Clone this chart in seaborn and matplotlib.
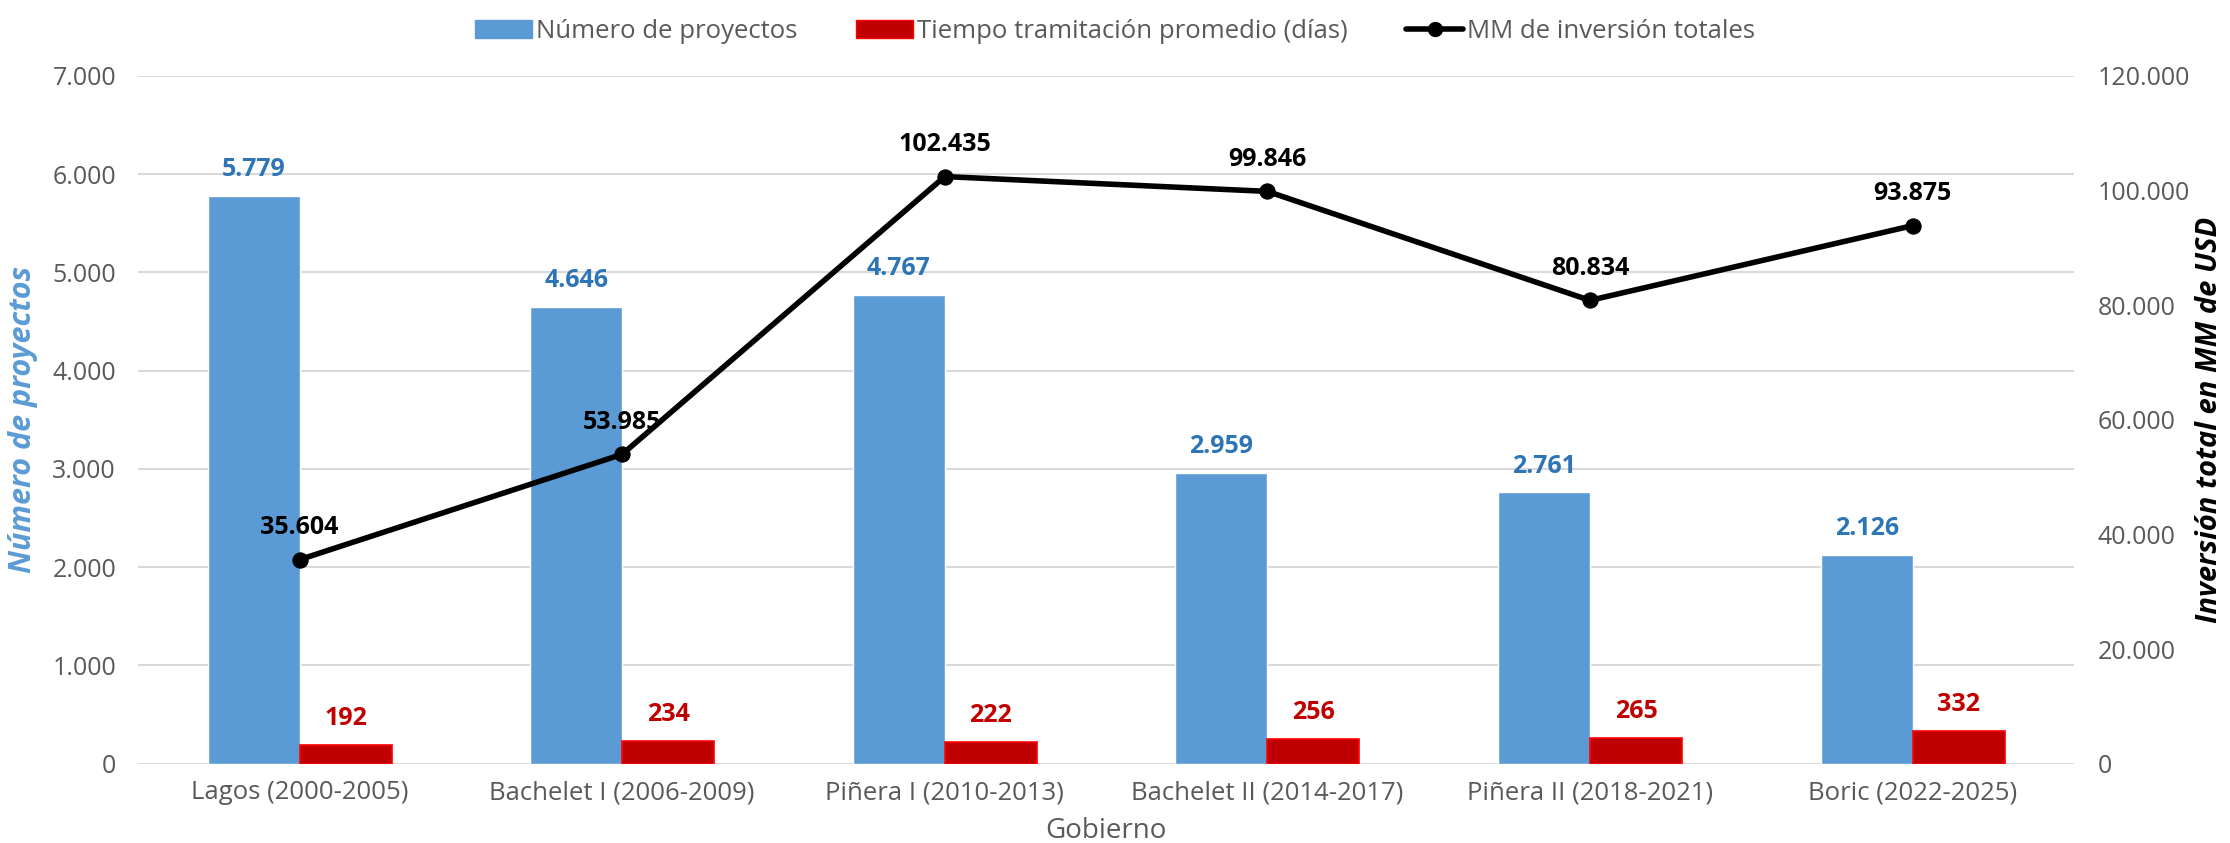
import numpy as np
import pandas as pd
import matplotlib
matplotlib.use("Agg")
import matplotlib.pyplot as plt
import seaborn as sns
from matplotlib.lines import Line2D
from matplotlib.patches import Patch
from matplotlib.ticker import FuncFormatter

gobiernos = ["Lagos (2000-2005)", "Bachelet I (2006-2009)", "Piñera I (2010-2013)",
             "Bachelet II (2014-2017)", "Piñera II (2018-2021)", "Boric (2022-2025)"]
proyectos = [5779, 4646, 4767, 2959, 2761, 2126]
tiempo = [192, 234, 222, 256, 265, 332]
inversion = [35604, 53985, 102435, 99846, 80834, 93875]

SERIE_P = "Número de proyectos"
SERIE_T = "Tiempo tramitación promedio (días)"
SERIE_I = "MM de inversión totales"

BLUE = "#5B9BD5"
BLUE_TXT = "#2E75B6"
RED = "#C00000"
GREY = "#595959"


def fmt(v):
    return f"{int(v):,}".replace(",", ".")


df = pd.DataFrame({
    "Gobierno": gobiernos * 2,
    "valor": proyectos + tiempo,
    "serie": [SERIE_P] * len(gobiernos) + [SERIE_T] * len(gobiernos),
})

sns.set_style("white")
plt.rcParams["font.family"] = ["Open Sans", "DejaVu Sans"]

fig = plt.figure(figsize=(22.3, 8.43), dpi=100)
ax = fig.add_axes([0.062, 0.094, 0.868, 0.816])

sns.barplot(data=df, x="Gobierno", y="valor", hue="serie", order=gobiernos,
            hue_order=[SERIE_P, SERIE_T], palette={SERIE_P: BLUE, SERIE_T: RED},
            width=0.57, saturation=1, errorbar=None, ax=ax, legend=False)

for bar in ax.containers[1]:
    bar.set_edgecolor("#FF0000")
    bar.set_linewidth(1.2)

ax.set_ylim(0, 7000)
ax.set_xlim(-0.5, len(gobiernos) - 0.5)
ax.set_yticks(range(0, 7001, 1000))
ax.yaxis.set_major_formatter(FuncFormatter(lambda v, p: fmt(v)))
ax.grid(axis="y", color="#D9D9D9", linewidth=1.5)
ax.set_axisbelow(True)
for s in ax.spines.values():
    s.set_visible(False)
ax.tick_params(axis="y", labelsize=18, colors=GREY, length=0, pad=16)
ax.tick_params(axis="x", labelsize=18.5, colors=GREY, length=0, pad=12)
ax.set_xlabel("Gobierno", fontsize=20, color=GREY, labelpad=8)
ax.set_ylabel(SERIE_P, fontsize=22, color=BLUE, fontweight="bold", style="italic", labelpad=10)

for bar, v in zip(ax.containers[0], proyectos):
    ax.annotate(fmt(v), (bar.get_x() + bar.get_width() / 2, bar.get_height()),
                xytext=(0, 19), textcoords="offset points", ha="center", va="center",
                fontsize=18, fontweight="bold", color=BLUE_TXT)
for bar, v in zip(ax.containers[1], tiempo):
    ax.annotate(fmt(v), (bar.get_x() + bar.get_width() / 2, bar.get_height()),
                xytext=(0, 19), textcoords="offset points", ha="center", va="center",
                fontsize=18, fontweight="bold", color=RED)

ax2 = ax.twinx()
xpos = np.arange(len(gobiernos))
sns.lineplot(x=xpos, y=inversion, ax=ax2, color="black", linewidth=4,
             marker="o", markersize=11, markeredgecolor="black")
ax2.set_ylim(0, 120000)
ax2.set_xlim(-0.5, len(gobiernos) - 0.5)
ax2.set_yticks(range(0, 120001, 20000))
ax2.yaxis.set_major_formatter(FuncFormatter(lambda v, p: fmt(v)))
for s in ax2.spines.values():
    s.set_visible(False)
ax2.tick_params(axis="y", labelsize=18, colors=GREY, length=0, pad=17)
ax2.set_ylabel("Inversión total en MM de USD", fontsize=21, color="black",
               fontweight="bold", style="italic", labelpad=4)

for x, v in zip(xpos, inversion):
    ax2.annotate(fmt(v), (x, v), xytext=(0, 23), textcoords="offset points",
                 ha="center", va="center", fontsize=18, fontweight="bold", color="black")

handles = [
    Patch(facecolor=BLUE, edgecolor=BLUE),
    Patch(facecolor=RED, edgecolor="#FF0000"),
    Line2D([0], [0], color="black", linewidth=4, marker="o", markersize=10),
]
fig.legend(handles, [SERIE_P, SERIE_T, SERIE_I], loc="upper center",
           bbox_to_anchor=(0.5, 1.005), ncol=3, frameon=False, fontsize=18.5,
           labelcolor=GREY, handlelength=2.2, handleheight=0.75, handletextpad=0.15,
           columnspacing=2.3)

fig.savefig("out.png", dpi=100)
